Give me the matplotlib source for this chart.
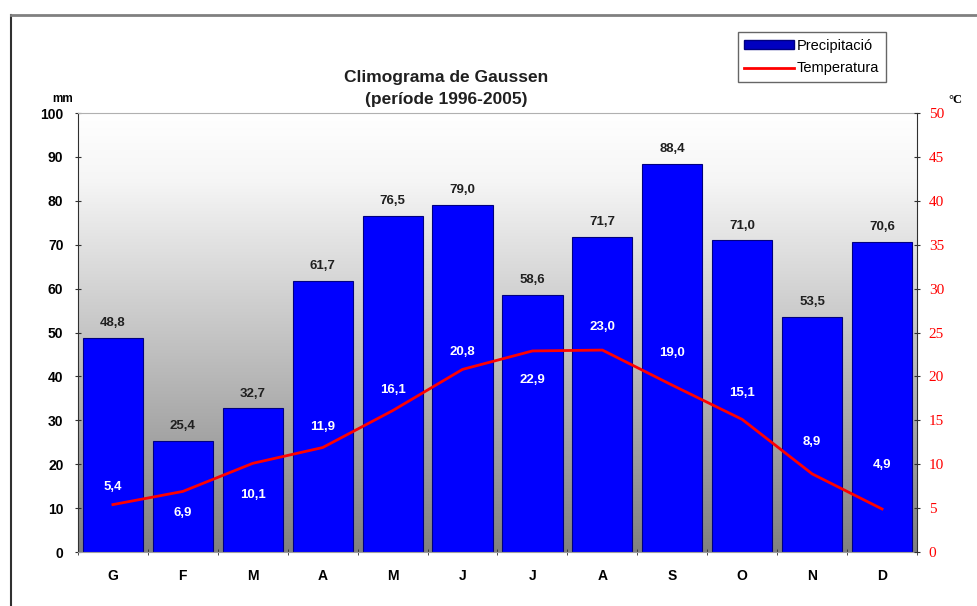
import numpy as np
import matplotlib
matplotlib.use('Agg')
import matplotlib.pyplot as plt
from matplotlib.patches import Rectangle
from matplotlib.lines import Line2D

plt.rcParams['font.family'] = ['Liberation Sans', 'DejaVu Sans']

# data
months = ['G', 'F', 'M', 'A', 'M', 'J', 'J', 'A', 'S', 'O', 'N', 'D']
precip = [48.8, 25.4, 32.7, 61.7, 76.5, 79.0, 58.6, 71.7, 88.4, 71.0, 53.5, 70.6]
temp = [5.4, 6.9, 10.1, 11.9, 16.1, 20.8, 22.9, 23.0, 19.0, 15.1, 8.9, 4.9]

# label offsets for temperature values (in degrees, + above line)
temp_dy = [2.0, -2.5, -3.6, 2.3, 2.4, 2.0, -3.3, 2.6, 3.7, 3.0, 3.6, 5.0]


def fmt(v):
    return ('%.1f' % v).replace('.', ',')


fig = plt.figure(figsize=(9.77, 6.06), dpi=100)

# outer frame
fig.add_artist(Line2D([0.011, 0.011], [0.0, 0.976], color='#303030', lw=1.5,
                      transform=fig.transFigure))
fig.add_artist(Line2D([0.011, 1.0], [0.976, 0.976], color='#808080', lw=2,
                      transform=fig.transFigure))

ax = fig.add_axes([0.0798, 0.0891, 0.8588, 0.7244])
x = np.arange(len(months))

# gradient background, white on top to gray at the bottom
grad = np.linspace(0, 1, 256).reshape(-1, 1)
cmap = matplotlib.colors.LinearSegmentedColormap.from_list(
    'bg', [(0.0, '#ffffff'), (0.15, '#f6f6f6'), (1.0, '#808080')])
ax.imshow(grad, cmap=cmap, aspect='auto', extent=[-0.5, 11.5, 0, 100], origin='upper', zorder=0)

ax.bar(x, precip, width=0.86, color='#0000ff', edgecolor='#000080', linewidth=0.8, zorder=2)
for xi, p in zip(x, precip):
    ax.text(xi, p + 2.0, fmt(p), ha='center', va='bottom', fontsize=9.5,
            fontweight='bold', color='#202020', zorder=5)

ax.set_xlim(-0.5, 11.5)
ax.set_ylim(0, 100)
ax.set_yticks(np.arange(0, 101, 10))
ax.set_xticks(x)
ax.set_xticklabels(months)
ax.set_xticks(np.arange(-0.5, 12, 1), minor=True)
ax.tick_params(axis='x', which='major', length=0, pad=12, labelsize=10)
ax.tick_params(axis='x', which='minor', length=5, direction='inout', color='#303030')
ax.tick_params(axis='y', length=5, direction='inout', color='#303030', labelsize=10, pad=8)
for lab in ax.get_xticklabels() + ax.get_yticklabels():
    lab.set_fontweight('bold')
ax.spines['top'].set_color('#b0b0b0')
ax.spines['left'].set_color('#303030')
ax.spines['bottom'].set_color('#a0a0a0')
ax.spines['right'].set_visible(False)

ax2 = ax.twinx()
ax2.plot(x, temp, color='#ff0000', lw=2, zorder=6)
ax2.set_ylim(0, 50)
ax2.set_yticks(np.arange(0, 51, 5))
ax2.tick_params(axis='y', length=5, direction='inout', color='#303030', labelcolor='#ff0000',
                labelsize=11, pad=6)
for lab in ax2.get_yticklabels():
    lab.set_family('Liberation Serif')
for sp in ['top', 'left', 'bottom']:
    ax2.spines[sp].set_visible(False)
ax2.spines['right'].set_color('#303030')
for xi, t, dy in zip(x, temp, temp_dy):
    ax2.text(xi, t + dy, fmt(t), ha='center', va='center', fontsize=9.5,
             fontweight='bold', color='white', zorder=7)

# titles
fig.text(0.457, 0.872, 'Climograma de Gaussen', ha='center', va='center',
         fontsize=12.5, fontweight='bold', color='#202020')
fig.text(0.457, 0.835, '(període 1996-2005)', ha='center', va='center',
         fontsize=12.5, fontweight='bold', color='#202020')
fig.text(0.053, 0.836, 'mm', ha='left', va='center', fontsize=8.5, fontweight='bold')
fig.text(0.978, 0.835, '°C', ha='center', va='center', fontsize=9, fontweight='bold',
         family='Liberation Serif')

handles = [Rectangle((0, 0), 1, 1, facecolor='#0000c0', edgecolor='#000080'),
           Line2D([], [], color='#ff0000', lw=2)]
leg = fig.legend(handles, ['Precipitació', 'Temperatura'], loc='upper left',
                 bbox_to_anchor=(0.755, 0.947), frameon=True, fancybox=False,
                 fontsize=10.5, handlelength=3.4, handleheight=0.5, handletextpad=0.2,
                 borderpad=0.45, labelspacing=0.6, borderaxespad=0)
leg.get_frame().set_edgecolor('#404040')
leg.get_frame().set_linewidth(1.0)

fig.savefig('out.png', dpi=100)
